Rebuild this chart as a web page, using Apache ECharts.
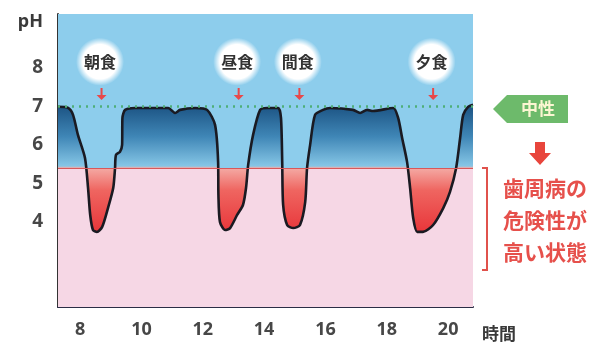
<!DOCTYPE html>
<html>
<head>
<meta charset="utf-8">
<script src="https://cdn.jsdelivr.net/npm/echarts@6/dist/echarts.min.js"></script>
<style>
    html, body { margin: 0; padding: 0; background: #fff; }
    #chart { width: 603px; height: 356px; }
</style>
</head>
<body>
<div id="chart"></div>
<script>
// 時刻 (時) と口の中の pH
const hours = [7.28, 7.61, 7.77, 7.93, 8.16, 8.26, 8.33, 8.42, 8.55, 8.72, 8.91, 9.08, 9.14, 9.17, 9.30, 9.37, 9.38, 9.47, 9.79,
    10.87, 11.10, 11.26, 11.75, 12.14, 12.40, 12.50, 12.51, 12.56, 12.73, 12.89, 13.12, 13.31, 13.41, 13.48, 13.64, 13.87,
    14.10, 14.46, 14.55, 14.59, 14.62, 14.75, 14.95, 15.17, 15.34, 15.40, 15.50, 15.66, 15.92, 16.15, 16.90, 17.13, 17.36,
    17.55, 18.21, 18.37, 18.50, 18.66, 18.76, 18.86, 18.99, 19.18, 19.51, 19.84, 20.06, 20.26, 20.39, 20.49, 20.65, 20.81]
const phValues = [6.99, 6.96, 6.78, 6.26, 5.66, 4.88, 4.18, 3.79, 3.74, 3.87, 4.36, 4.88, 5.40, 5.74, 5.82, 6.00, 6.70, 6.91, 6.96,
    6.96, 6.83, 6.91, 6.96, 6.91, 6.52, 5.56, 4.70, 4.00, 3.79, 3.84, 4.18, 4.44, 4.88, 5.48, 6.26, 6.91,
    6.96, 6.96, 6.70, 5.56, 4.44, 3.92, 3.84, 3.92, 4.52, 5.40, 6.00, 6.78, 6.91, 6.96, 6.91, 6.83, 6.91,
    6.88, 6.96, 6.70, 6.18, 5.56, 4.88, 4.10, 3.74, 3.74, 3.92, 4.36, 4.78, 5.40, 6.18, 6.78, 6.99, 7.04]

const xTicks = [8, 10, 12, 14, 16, 18, 20]
const yTicks = [4, 5, 6, 7, 8]

const mealNames = ['朝食', '昼食', '間食', '夕食']
const mealHours = [8.65, 13.12, 15.1, 19.46]

const neutralPh = 7
const dangerPh = 5.4
const riskText = ['歯周病の', '危険性が', '高い状態']

const X_MIN = 7.28, X_MAX = 20.81
const Y_MIN = 1.79, Y_MAX = 9.4

const labelFont = "'Noto Sans', 'Noto Sans CJK JP', sans-serif"
const jpFont = "'Noto Sans CJK JP', sans-serif"

function getAreaGradient() {
    const top = Math.max(...phValues)
    const bottom = Math.min(...phValues)
    const f = (top - dangerPh) / (top - bottom)
    return new echarts.graphic.LinearGradient(0, 0, 0, 1, [
        { offset: 0, color: '#1b5282' },
        { offset: f * 0.5, color: '#3f86b6' },
        { offset: f * 0.97, color: '#86c6e6' },
        { offset: f, color: '#f4aaa4' },
        { offset: f + (1 - f) * 0.35, color: '#ef6560' },
        { offset: 1, color: '#e8363a' }
    ], false)
}

function getMealMarks() {
    let marks = []
    mealNames.forEach((name, i) => {
        marks.push({
            coord: [mealHours[i], 8.16],
            symbol: 'circle',
            symbolSize: 48,
            itemStyle: {
                color: new echarts.graphic.RadialGradient(0.5, 0.5, 0.5, [
                    { offset: 0, color: '#ffffff' },
                    { offset: 0.72, color: '#ffffff' },
                    { offset: 1, color: 'rgba(255,255,255,0)' }
                ])
            },
            label: {
                show: true,
                position: 'inside',
                formatter: name,
                color: '#333',
                fontSize: 16,
                fontWeight: 'bold',
                fontFamily: jpFont
            }
        })
        marks.push({
            coord: [mealHours[i] + 0.05, 7.32],
            symbol: 'path://M4,0 L6,0 L6,7 L10,7 L5,12 L0,7 L4,7 Z',
            symbolSize: [10, 12],
            itemStyle: { color: '#e8484a' },
            label: { show: false }
        })
    })
    return marks
}

function getOption() {
    let option = {
        animation: false,
        grid: {
            left: 58,
            right: 130,
            top: 14,
            bottom: 49,
            containLabel: false
        },
        xAxis: {
            type: 'value',
            min: X_MIN,
            max: X_MAX,
            name: '時間',
            nameLocation: 'end',
            nameGap: 9,
            nameTextStyle: {
                color: '#3a3a3a',
                fontSize: 17,
                fontWeight: 'bold',
                fontFamily: jpFont,
                verticalAlign: 'top',
                align: 'left',
                padding: [18, 0, 0, 0]
            },
            axisLine: { show: true, lineStyle: { color: '#2b2d45', width: 2 } },
            axisTick: { show: false },
            splitLine: { show: false },
            axisLabel: {
                customValues: xTicks,
                color: '#474747',
                fontSize: 18,
                fontWeight: 'bold',
                margin: 14,
                fontFamily: labelFont
            }
        },
        yAxis: {
            type: 'value',
            min: Y_MIN,
            max: Y_MAX,
            name: 'pH',
            nameLocation: 'end',
            nameGap: -8,
            nameTextStyle: {
                color: '#3a3a3a',
                fontSize: 18,
                fontWeight: 'bold',
                fontFamily: labelFont,
                align: 'right',
                verticalAlign: 'middle',
                padding: [0, 15, 0, 0]
            },
            axisLine: { show: true, lineStyle: { color: '#333', width: 2 } },
            axisTick: { show: false },
            splitLine: { show: false },
            axisLabel: {
                customValues: yTicks,
                color: '#474747',
                fontSize: 19,
                fontWeight: 'bold',
                margin: 15,
                fontFamily: labelFont
            }
        },
        graphic: [
            {
                type: 'polygon',
                shape: { points: [[493, 109], [507, 95], [568, 95], [568, 123], [507, 123]] },
                style: { fill: '#6dba6b' }
            },
            {
                type: 'text',
                x: 538, y: 109,
                style: {
                    text: '中性', fill: '#fbf6d2', font: "bold 17px 'Noto Sans CJK JP'",
                    align: 'center', verticalAlign: 'middle'
                }
            },
            {
                type: 'polygon',
                shape: { points: [[535, 142], [545, 142], [545, 153], [551, 153], [540, 165], [529, 153], [535, 153]] },
                style: { fill: '#e8453c' }
            },
            {
                type: 'polyline',
                shape: { points: [[482, 168], [487, 168], [487, 270], [482, 270]] },
                style: { stroke: '#e0524c', lineWidth: 2, fill: null }
            },
            ...riskText.map((t, i) => ({
                type: 'text',
                x: 503, y: 188 + i * 32,
                style: {
                    text: t, fill: '#e6504b', font: "bold 21px 'Noto Sans CJK JP'",
                    align: 'left', verticalAlign: 'middle'
                }
            }))
        ],
        series: [
            {
                name: 'background',
                type: 'line',
                z: 1,
                silent: true,
                symbol: 'none',
                lineStyle: { opacity: 0 },
                data: hours.map((h, i) => [h, phValues[i]]),
                markArea: {
                    silent: true,
                    data: [
                        [{ yAxis: dangerPh, itemStyle: { color: '#8dcdec' } }, { yAxis: Y_MAX }],
                        [{ yAxis: Y_MIN, itemStyle: { color: '#f6d7e5' } }, { yAxis: dangerPh }]
                    ]
                }
            },
            {
                name: 'pH',
                type: 'line',
                z: 3,
                smooth: 0.25,
                symbol: 'none',
                lineStyle: { color: '#1a1a22', width: 2.6 },
                areaStyle: {
                    origin: dangerPh,
                    opacity: 1,
                    color: getAreaGradient()
                },
                data: hours.map((h, i) => [h, phValues[i]]),
                markLine: {
                    silent: true,
                    symbol: 'none',
                    label: { show: false },
                    data: [
                        { yAxis: dangerPh, lineStyle: { color: '#d8585a', width: 1, type: 'solid' } },
                        { yAxis: neutralPh, lineStyle: { color: '#4fae78', width: 2.5, type: [2, 5] } }
                    ]
                }
            },
            {
                name: 'meals',
                type: 'scatter',
                z: 4,
                silent: true,
                data: [],
                markPoint: {
                    silent: true,
                    data: getMealMarks()
                }
            }
        ]
    }
    return option
}

const chart = echarts.init(document.getElementById('chart'))
chart.setOption(getOption())
</script>
</body>
</html>
